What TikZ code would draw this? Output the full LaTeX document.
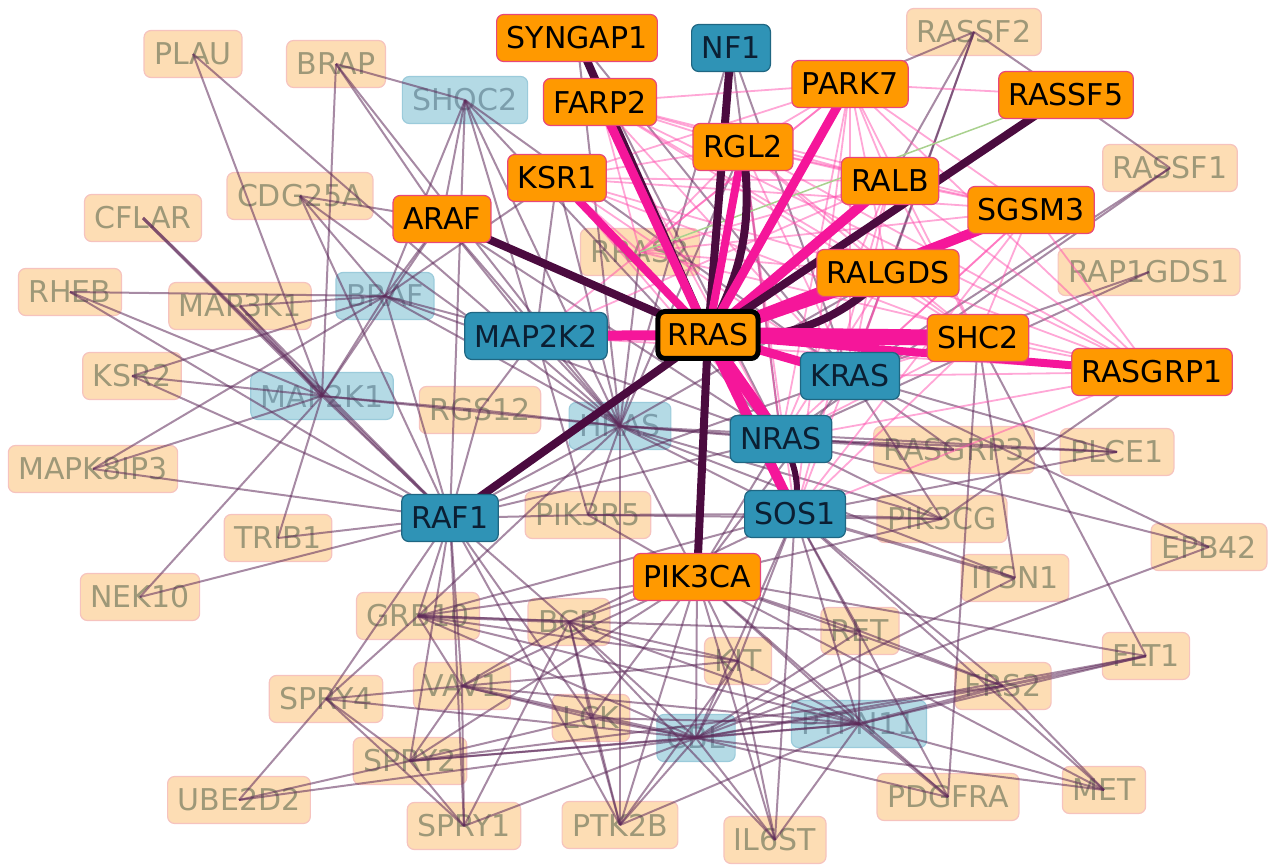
\documentclass[tikz,border=0pt]{standalone}
\usepackage{fontspec}
\setmainfont{DejaVu Sans}
\usepackage{xcolor}
\usepackage{tikz}

\definecolor{hitfill}{HTML}{FF9900}
\definecolor{hitline}{HTML}{E8477A}
\definecolor{corefill}{HTML}{2F93B6}
\definecolor{coreline}{HTML}{1F6682}
\definecolor{coretext}{HTML}{0B1F33}
\definecolor{dimfill}{HTML}{FDDDB4}
\definecolor{dimline}{HTML}{F6C3BE}
\definecolor{dimtext}{HTML}{9E9878}
\definecolor{dimcorefill}{HTML}{B4DAE5}
\definecolor{dimcoreline}{HTML}{9BCBDB}
\definecolor{dimcoretext}{HTML}{7C9EAC}
\definecolor{wirec}{HTML}{5E2A5A}
\definecolor{pinkc}{HTML}{FF4FAE}
\definecolor{darkc}{HTML}{4B0B3F}
\definecolor{hotc}{HTML}{F5169A}
\definecolor{greenc}{HTML}{A9D18E}

\newcommand{\genefont}{\fontsize{30}{30}\selectfont}

\pgfdeclarelayer{faint}
\pgfdeclarelayer{links}
\pgfsetlayers{faint,links,main}

\begin{document}
\begin{tikzpicture}[x=1pt,y=-1pt,
			gene/.style={rectangle,rounded corners=7pt,minimum height=47pt,
				inner xsep=10pt,inner ysep=0pt,line width=1.2pt,font=\genefont},
			hit/.style={gene,fill=hitfill,draw=hitline,text=black},
			core/.style={gene,fill=corefill,draw=coreline,text=coretext},
			dimhit/.style={gene,fill=dimfill,draw=dimline,text=dimtext},
			dimcore/.style={gene,fill=dimcorefill,draw=dimcoreline,text=dimcoretext},
			wire/.style={draw=wirec,line width=2pt,draw opacity=0.55},
			pinkwire/.style={draw=pinkc,line width=1.8pt,draw opacity=0.5},
			heavy/.style={draw=darkc,line width=8pt},
			hot/.style={draw=hotc,line width=9pt}]
	\useasboundingbox (0,0) rectangle (1272,866);

	% faded genes
	\begin{pgfonlayer}{faint}
		\node[dimcore] (SHOC2) at (465,100) {SHOC2};
		\node[dimcore] (BRAF) at (385,296) {BRAF};
		\node[dimcore] (MAP2K1) at (322,396) {MAP2K1};
		\node[dimcore] (HRAS) at (620,426) {HRAS};
		\node[dimcore] (CBL) at (696,738) {CBL};
		\node[dimcore] (PTPN11) at (859,724) {PTPN11};
		\node[dimhit] (PLAU) at (193,54) {PLAU};
		\node[dimhit] (BRAP) at (336,64) {BRAP};
		\node[dimhit] (CDG25A) at (300,196) {CDG25A};
		\node[dimhit] (CFLAR) at (143,218) {CFLAR};
		\node[dimhit] (RHEB) at (70,292) {RHEB};
		\node[dimhit] (MAP3K1) at (240,306) {MAP3K1};
		\node[dimhit] (KSR2) at (132,376) {KSR2};
		\node[dimhit] (MAPK8IP3) at (93,469) {MAPK8IP3};
		\node[dimhit] (RGS12) at (480,410) {RGS12};
		\node[dimhit] (TRIB1) at (278,538) {TRIB1};
		\node[dimhit] (NEK10) at (140,597) {NEK10};
		\node[dimhit] (PIK3R5) at (588,515) {PIK3R5};
		\node[dimhit] (RRAS2) at (640,252) {RRAS2};
		\node[dimhit] (RASSF2) at (974,32) {RASSF2};
		\node[dimhit] (RASSF1) at (1170,168) {RASSF1};
		\node[dimhit] (RAP1GDS1) at (1149,272) {RAP1GDS1};
		\node[dimhit] (RASGRP3) at (954,450) {RASGRP3};
		\node[dimhit] (PLCE1) at (1117,452) {PLCE1};
		\node[dimhit] (PIK3CG) at (942,519) {PIK3CG};
		\node[dimhit] (EPB42) at (1209,547) {EPB42};
		\node[dimhit] (ITSN1) at (1015,578) {ITSN1};
		\node[dimhit] (GRB10) at (418,616) {GRB10};
		\node[dimhit] (BCR) at (569,622) {BCR};
		\node[dimhit] (RET) at (860,631) {RET};
		\node[dimhit] (KIT) at (738,661) {KIT};
		\node[dimhit] (FLT1) at (1146,656) {FLT1};
		\node[dimhit] (FRS2) at (1003,686) {FRS2};
		\node[dimhit] (VAV1) at (462,686) {VAV1};
		\node[dimhit] (SPRY4) at (326,699) {SPRY4};
		\node[dimhit] (LCK) at (591,718) {LCK};
		\node[dimhit] (SPRY2) at (410,761) {SPRY2};
		\node[dimhit] (UBE2D2) at (239,800) {UBE2D2};
		\node[dimhit] (SPRY1) at (464,826) {SPRY1};
		\node[dimhit] (PTK2B) at (620,825) {PTK2B};
		\node[dimhit] (IL6ST) at (775,840) {IL6ST};
		\node[dimhit] (PDGFRA) at (948,797) {PDGFRA};
		\node[dimhit] (MET) at (1104,790) {MET};
	\end{pgfonlayer}

	% ras family and effectors
	\node[core] (NF1) at (731,48) {NF1};
	\node[core] (MAP2K2) at (536,336) {MAP2K2};
	\node[core] (KRAS) at (850,376) {KRAS};
	\node[core] (NRAS) at (781,439) {NRAS};
	\node[core] (SOS1) at (795,514) {SOS1};
	\node[core] (RAF1) at (450,518) {RAF1};
	\node[hit] (SYNGAP1) at (577,38) {SYNGAP1};
	\node[hit] (FARP2) at (600,102) {FARP2};
	\node[hit] (KSR1) at (557,178) {KSR1};
	\node[hit] (ARAF) at (442,219) {ARAF};
	\node[hit] (RGL2) at (743,147) {RGL2};
	\node[hit] (PARK7) at (850,84) {PARK7};
	\node[hit] (RASSF5) at (1066,95) {RASSF5};
	\node[hit] (RALB) at (890,181) {RALB};
	\node[hit] (SGSM3) at (1031,210) {SGSM3};
	\node[hit] (RALGDS) at (888,273) {RALGDS};
	\node[hit] (SHC2) at (978,338) {SHC2};
	\node[hit] (RASGRP1) at (1152,372) {RASGRP1};
	\node[hit] (PIK3CA) at (697,577) {PIK3CA};
	\node[hit,draw=black,line width=5pt] (RRAS) at (708,335) {RRAS};

	\begin{pgfonlayer}{links}
		% thin links
		\path[wire] (RAF1.center) edge (MAP2K1.center) edge (BRAF.center) edge (HRAS.center)
			edge (RHEB.center) edge (MAPK8IP3.center) edge (TRIB1.center) edge (NEK10.center)
			edge (KSR2.center) edge (MAP3K1.center) edge (CDG25A.center) edge (RGS12.center)
			edge (SHOC2.center) edge (GRB10.center) edge (VAV1.center) edge (SPRY4.center)
			edge (SPRY2.center) edge (BCR.center) edge (LCK.center) edge (NRAS.center)
			edge (KRAS.center) edge (PTK2B.center) edge (PIK3R5.center) edge (SPRY1.center);
		\path[wire] (MAP2K1.center) edge (BRAF.center) edge (KSR2.center) edge (MAPK8IP3.center)
			edge (TRIB1.center) edge (NEK10.center) edge (PLAU.center) edge (BRAP.center)
			edge (RGS12.center) edge (HRAS.center) edge (ARAF.center) edge (RHEB.center);
		\path[wire,line width=3pt] (MAP2K1.center) edge (MAP3K1.center)
			(CFLAR.center) edge (MAP2K1.center) edge (RAF1.center);
		\path[wire] (BRAF.center) edge (RHEB.center) edge (MAP3K1.center) edge (KSR2.center)
			edge (MAPK8IP3.center) edge (HRAS.center) edge (ARAF.center) edge (SHOC2.center)
			edge (MAP2K2.center) edge (NRAS.center) edge (CDG25A.center) edge (KSR1.center);
		\path[wire] (HRAS.center) edge (SHOC2.center) edge (ARAF.center) edge (RGS12.center)
			edge (PIK3R5.center) edge (PLCE1.center) edge (RASGRP3.center) edge (PIK3CG.center)
			edge (SOS1.center) edge (RRAS2.center) edge (KSR1.center) edge (MAP2K2.center)
			edge (NRAS.center) edge (PLAU.center) edge (CDG25A.center) edge (ITSN1.center)
			edge (RGL2.center) edge (RALGDS.center) edge (BRAP.center) edge (GRB10.center)
			edge (PTK2B.center);
		\path[wire] (SHOC2.center) edge (NRAS.center) edge (KRAS.center) edge (MAP2K2.center)
			edge (BRAP.center) edge (ARAF.center);
		\path[wire] (ARAF.center) edge (MAP2K2.center) edge (NRAS.center) edge (BRAP.center)
			edge (CDG25A.center);
		\path[wire] (MAP2K2.center) edge (KSR1.center) edge (RGS12.center) edge (PIK3R5.center);
		\path[wire] (NF1.center) edge (HRAS.center) edge (KRAS.center) edge (NRAS.center);
		\path[wire] (SYNGAP1.center) edge (HRAS.center) edge (KRAS.center) edge (NRAS.center);
		\path[wire] (RASSF2.center) edge (RALB.center) edge (RALGDS.center) edge (KRAS.center)
			edge (RASSF5.center) edge (PARK7.center);
		\path[wire] (RASSF1.center) edge (RASSF5.center) edge (KRAS.center) edge (NRAS.center);
		\path[wire] (RAP1GDS1.center) edge (KRAS.center) edge (NRAS.center);
		\path[wire] (NRAS.center) edge (PLCE1.center) edge (EPB42.center) edge (PIK3CG.center);
		\path[wire,line width=3pt] (NRAS.center) edge (RASGRP3.center)
			(SOS1.center) edge (ITSN1.center);
		\path[wire] (KRAS.center) edge (RASGRP3.center) edge (PLCE1.center) edge (PIK3CG.center)
			edge (EPB42.center);
		\path[wire] (PIK3CG.center) edge (PIK3R5.center) edge (RASGRP1.center) edge (SOS1.center);
		\path[wire] (SHC2.center) edge (FLT1.center) edge (PDGFRA.center) edge (ITSN1.center);
		\path[wire] (SOS1.center) edge (PTPN11.center) edge (CBL.center) edge (FRS2.center)
			edge (MET.center) edge (RET.center) edge (KIT.center) edge (PIK3R5.center)
			edge (BCR.center) edge (GRB10.center) edge (PLCE1.center) edge (PDGFRA.center)
			edge (IL6ST.center);
		\path[wire] (PIK3CA.center) edge (GRB10.center) edge (BCR.center) edge (KIT.center)
			edge (LCK.center) edge (VAV1.center) edge (CBL.center) edge (PTPN11.center)
			edge (PTK2B.center) edge (IL6ST.center) edge (PDGFRA.center) edge (MET.center)
			edge (RET.center) edge (FRS2.center) edge (HRAS.center) edge (PIK3R5.center)
			edge (KRAS.center) edge (NRAS.center) edge (SPRY2.center) edge (FLT1.center)
			edge (PIK3CG.center);
		\path[wire] (CBL.center) edge (LCK.center) edge (SPRY2.center) edge (SPRY4.center)
			edge (UBE2D2.center) edge (SPRY1.center) edge (PTK2B.center) edge (KIT.center)
			edge (BCR.center) edge (GRB10.center) edge (RET.center) edge (FLT1.center)
			edge (MET.center) edge (PDGFRA.center) edge (FRS2.center) edge (PTPN11.center)
			edge (IL6ST.center) edge (EPB42.center) edge (ITSN1.center);
		\path[wire,line width=3pt] (CBL.center) edge (VAV1.center)
			(PTPN11.center) edge (PDGFRA.center) edge (FRS2.center)
			(GRB10.center) edge (BCR.center)
			(FRS2.center) edge (FLT1.center);
		\path[wire] (PTPN11.center) edge (FLT1.center) edge (MET.center) edge (IL6ST.center)
			edge (KIT.center) edge (RET.center) edge (BCR.center) edge (GRB10.center)
			edge (LCK.center) edge (VAV1.center) edge (SPRY2.center) edge (PTK2B.center);
		\path[wire] (GRB10.center) edge (KIT.center) edge (RET.center) edge (SPRY4.center)
			edge (VAV1.center);
		\path[wire] (BCR.center) edge (KIT.center) edge (LCK.center) edge (IL6ST.center)
			edge (SPRY1.center) edge (VAV1.center);
		\path[wire] (VAV1.center) edge (LCK.center) edge (SPRY4.center) edge (SPRY2.center)
			edge (KIT.center) edge (SPRY1.center);
		\path[wire] (SPRY4.center) edge (UBE2D2.center) edge (SPRY2.center) edge (SPRY1.center);
		\path[wire] (SPRY2.center) edge (SPRY1.center) edge (LCK.center) edge (UBE2D2.center)
			edge (FRS2.center);
		\path[wire] (PTK2B.center) edge (LCK.center) edge (KIT.center) edge (BCR.center);
		\path[wire] (FRS2.center) edge (RET.center) edge (MET.center);
		\path[wire] (IL6ST.center) edge (KIT.center);

		% pink links among the ras effectors
		\path[pinkwire] (FARP2.center) edge (PARK7.center) edge (RALB.center) edge (SGSM3.center)
			edge (RALGDS.center) edge (SHC2.center) edge (RASGRP1.center) edge (KRAS.center)
			edge (NRAS.center) edge (RGL2.center) edge (SOS1.center);
		\path[pinkwire] (PARK7.center) edge (RALB.center) edge (SGSM3.center) edge (RALGDS.center)
			edge (SHC2.center) edge (RASGRP1.center) edge (KRAS.center) edge (NRAS.center)
			edge (SOS1.center) edge (KSR1.center) edge (RRAS2.center) edge (MAP2K2.center)
			edge (RGL2.center) edge (RASSF5.center);
		\path[pinkwire] (KSR1.center) edge (RGL2.center) edge (RALB.center) edge (RALGDS.center)
			edge (SHC2.center) edge (KRAS.center) edge (NRAS.center) edge (SGSM3.center);
		\path[pinkwire] (RGL2.center) edge (RALB.center) edge (SGSM3.center) edge (SHC2.center)
			edge (RASGRP1.center) edge (KRAS.center) edge (NRAS.center) edge (RALGDS.center)
			edge (SOS1.center);
		\path[pinkwire] (RALB.center) edge (SGSM3.center) edge (RASGRP1.center) edge (SHC2.center)
			edge (NRAS.center) edge (SOS1.center) edge (KRAS.center) edge (MAP2K2.center);
		\path[pinkwire] (SGSM3.center) edge (KRAS.center) edge (NRAS.center) edge (RASGRP1.center)
			edge (SOS1.center) edge (RALGDS.center) edge (SHC2.center) edge (RRAS2.center);
		\path[pinkwire] (RALGDS.center) edge (RASGRP1.center) edge (NRAS.center) edge (SOS1.center)
			edge (SHC2.center) edge (KRAS.center);
		\path[pinkwire] (SHC2.center) edge (NRAS.center) edge (SOS1.center) edge (KRAS.center)
			edge (RASGRP1.center);
		\path[pinkwire] (RASGRP1.center) edge (KRAS.center) edge (NRAS.center) edge (SOS1.center)
			edge (RRAS2.center) edge (MAP2K2.center);
		\path[pinkwire] (RRAS2.center) edge (RALB.center) edge (RALGDS.center) edge (RGL2.center)
			edge (FARP2.center) edge (KSR1.center);
		\draw[draw=greenc,line width=1.5pt] (RRAS2.center) -- (RASSF5.center);

		% links of RRAS
		\draw[heavy] (RRAS.center) -- (SYNGAP1.center);
		\draw[heavy] (RRAS.center) -- (NF1.center);
		\draw[heavy] (RRAS.center) -- (ARAF.center);
		\draw[heavy] (RRAS.center) -- (RAF1.center);
		\draw[heavy] (RRAS.center) -- (PIK3CA.center);
		\draw[hot] (RRAS.center) -- (FARP2.center);
		\draw[hot,line width=8pt] (RRAS.center) -- (KSR1.center);
		\draw[hot,line width=8pt] (RRAS.center) -- (RGL2.center);
		\draw[heavy] (RGL2.center) to[bend left=18] (RRAS.center);
		\draw[hot] (RRAS.center) -- (PARK7.center);
		\draw[hot,line width=10pt] (RRAS.center) -- (RALB.center);
		\draw[hot,line width=10pt] (RRAS.center) -- (SGSM3.center);
		\draw[hot,line width=12pt] (RRAS.center) -- (RALGDS.center);
		\draw[heavy] (RASSF5.center) -- (RRAS.center);
		\draw[heavy] (RALGDS.center) to[bend left=25] (RRAS.center);
		\draw[hot,line width=8pt] (RRAS.center) -- (RASGRP1.center);
		\draw[hot,line width=16pt] (RRAS.center) -- (SHC2.center);
		\draw[hot] (RRAS.center) -- (KRAS.center);
		\draw[hot,line width=10pt] (RRAS.center) -- (MAP2K2.center);
		\draw[hot,line width=11pt] (RRAS.center) -- (NRAS.center);
		\draw[hot,line width=10pt] (RRAS.center) -- (SOS1.center);
		\draw[heavy,line width=6pt] (NRAS.center) to[bend left=20] (SOS1.center);
	\end{pgfonlayer}
\end{tikzpicture}
\end{document}
